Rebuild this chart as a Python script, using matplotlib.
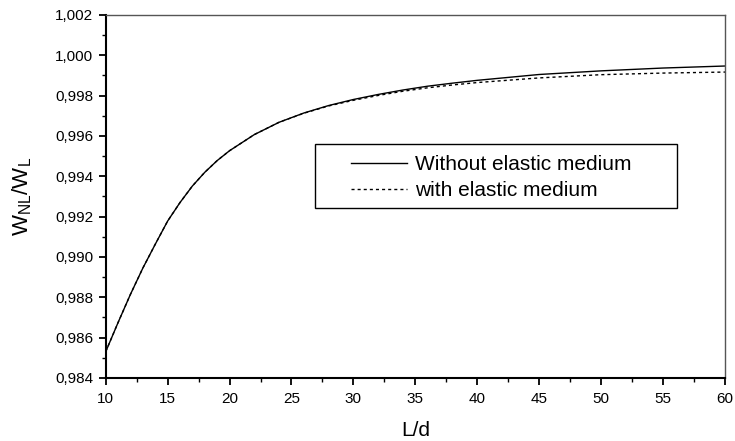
import matplotlib
matplotlib.use("Agg")
import matplotlib.pyplot as plt
from matplotlib.patches import Rectangle
from matplotlib.ticker import MultipleLocator, FuncFormatter

plt.rcParams['font.family'] = ['Liberation Sans', 'DejaVu Sans']

# values
ld = [10, 11, 12, 13, 14, 15, 16, 17, 18, 19, 20, 22, 24, 26, 28,
      30, 32, 34, 36, 38, 40, 45, 50, 55, 60]
without_medium = [0.98530, 0.98675, 0.98815, 0.98945, 0.99063, 0.99178, 0.99270,
                  0.99352, 0.99420, 0.99478, 0.99527, 0.99607, 0.99668, 0.99714,
                  0.99751, 0.99781, 0.99806, 0.99828, 0.99847, 0.99862, 0.99876,
                  0.99905, 0.99923, 0.99937, 0.99947]
with_medium = [0.98530, 0.98675, 0.98815, 0.98945, 0.99063, 0.99178, 0.99270,
               0.99352, 0.99420, 0.99478, 0.99527, 0.99607, 0.99668, 0.99713,
               0.99749, 0.99777, 0.99801, 0.99822, 0.99839, 0.99853, 0.99865,
               0.99888, 0.99904, 0.99912, 0.99917]
labels = ['Without elastic medium', 'with elastic medium']

fig = plt.figure(figsize=(7.35, 4.41), dpi=100)
ax = fig.add_axes([0.1438, 0.1429, 0.8426, 0.8231])

l1, = ax.plot(ld, without_medium, color='black', lw=1.0)
l2, = ax.plot(ld, with_medium, color='black', lw=1.0, linestyle=(0, (2.2, 2.2)))

ax.set_xlim(10, 60)
ax.set_ylim(0.984, 1.002)
ax.xaxis.set_major_locator(MultipleLocator(5))
ax.xaxis.set_minor_locator(MultipleLocator(2.5))
ax.yaxis.set_major_locator(MultipleLocator(0.002))
ax.yaxis.set_minor_locator(MultipleLocator(0.001))
ax.yaxis.set_major_formatter(FuncFormatter(lambda v, p: f'{v:.3f}'.replace('.', ',')))
ax.xaxis.set_major_formatter(FuncFormatter(lambda v, p: f'{v:.0f}'))
ax.tick_params(which='major', direction='out', length=5, width=1.3, labelsize=11)
ax.tick_params(axis='x', which='major', pad=5)
ax.tick_params(axis='y', which='major', pad=4)
ax.tick_params(which='minor', direction='out', length=3, width=1.0)

for s in ['left', 'bottom']:
    ax.spines[s].set_linewidth(1.5)
for s in ['top', 'right']:
    ax.spines[s].set_linewidth(1.0)
    ax.spines[s].set_color('#555555')

ax.set_xlabel('L/d', fontsize=15, labelpad=11)
ax.set_ylabel(r'$\mathregular{W_{NL}/W_L}$', fontsize=16, labelpad=15)

leg = ax.legend([l1, l2], labels, loc='upper left', bbox_to_anchor=(0.3965, 0.614),
                frameon=False, fontsize=15, handlelength=2.7, handletextpad=0.35,
                labelspacing=0.34, borderaxespad=0, borderpad=0)
ax.add_patch(Rectangle((0.3387, 0.4675), 0.5843, 0.1763, transform=ax.transAxes,
                       fill=False, edgecolor='black', lw=1.0, zorder=5))

fig.savefig('out.png', dpi=100)
